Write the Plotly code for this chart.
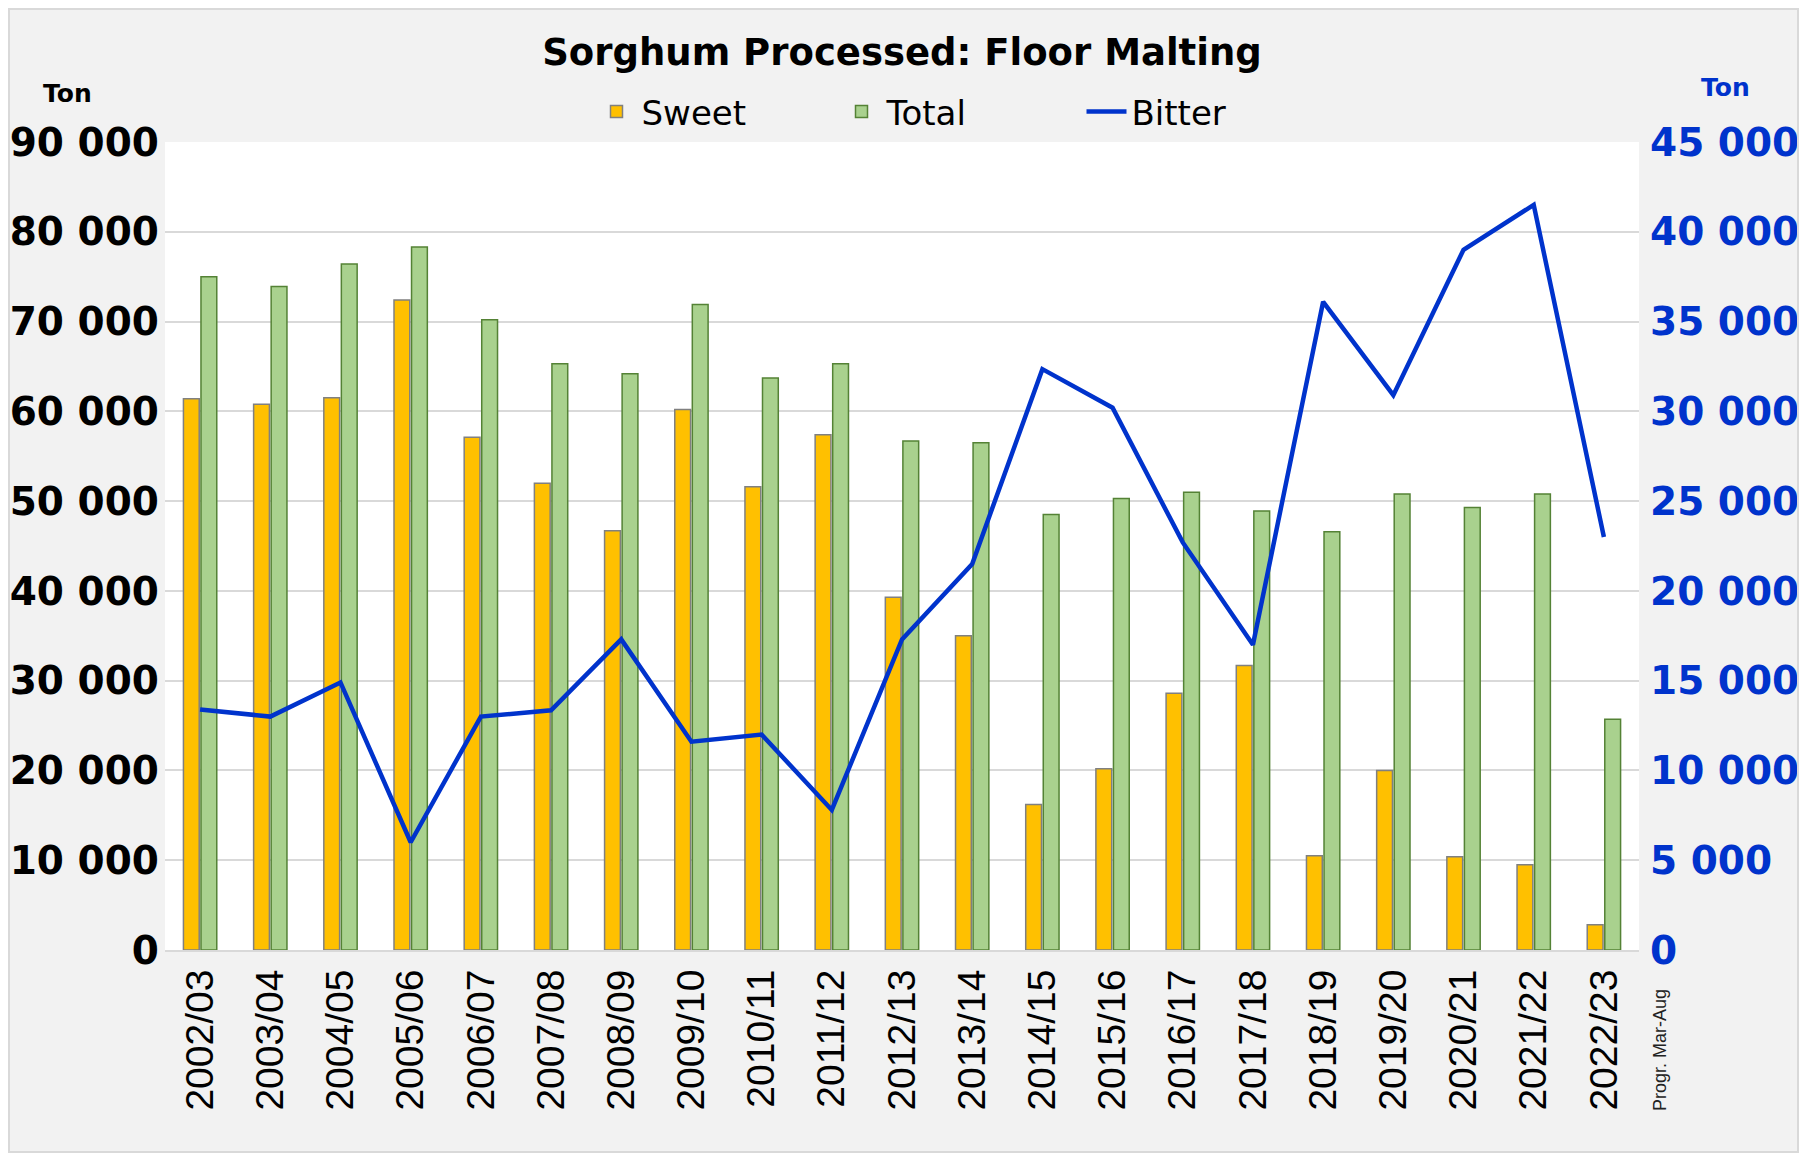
import plotly.graph_objects as go

seasons = ["2002/03", "2003/04", "2004/05", "2005/06", "2006/07", "2007/08", "2008/09",
           "2009/10", "2010/11", "2011/12", "2012/13", "2013/14", "2014/15", "2015/16",
           "2016/17", "2017/18", "2018/19", "2019/20", "2020/21", "2021/22", "2022/23"]
sweet = [61400, 60800, 61500, 72400, 57100, 52000, 46700, 60200, 51600, 57400, 39300,
         35000, 16200, 20200, 28600, 31700, 10500, 20000, 10400, 9500, 2800]
total = [75000, 73900, 76400, 78300, 70200, 65300, 64200, 71900, 63700, 65300, 56700,
         56500, 48500, 50300, 51000, 48900, 46600, 50800, 49300, 50800, 25700]
bitter = [13400, 13000, 14900, 6000, 13000, 13350, 17300, 11600, 12000, 7800, 17300,
          21500, 32350, 30200, 22700, 17000, 36100, 30900, 39000, 41500, 23000]

left_ticks = list(range(0, 90001, 10000))
right_ticks = list(range(0, 45001, 5000))

BLUE = "#0033CC"
NUMFONT = "DejaVu Sans"

fig = go.Figure()
fig.add_trace(go.Bar(name="Sweet", x=seasons, y=sweet,
                     marker=dict(color="#FFC000", line=dict(color="#808080", width=1.5))))
fig.add_trace(go.Bar(name="Total", x=seasons, y=total,
                     marker=dict(color="#A9D18E", line=dict(color="#548235", width=1.5))))
fig.add_trace(go.Scatter(name="Bitter", x=seasons, y=bitter, yaxis="y2", mode="lines",
                         line=dict(color=BLUE, width=4.5)))

# the page body adds an 8px margin, so the figure is sized to fit inside the window
W, H = 1791, 1145
OFF = 8
L, R, T, B = 157, 160, 134, 203


def px(x):
    """x in full-window pixels -> paper fraction"""
    return (x - OFF - L) / (W - L - R)


def py(y):
    """y in full-window pixels -> paper fraction"""
    return (H - B - (y - OFF)) / (H - T - B)


fig.update_layout(
    width=W, height=H,
    margin=dict(l=L, r=R, t=T, b=B, pad=0, autoexpand=False),
    paper_bgcolor="#F2F2F2",
    plot_bgcolor="white",
    separators=". ",
    barmode="group",
    bargap=0.5,
    bargroupgap=0.1,
    title=dict(text="<b>Sorghum Processed: Floor Malting</b>",
               x=(902 - OFF) / W, xanchor="center", y=1 - (52 - OFF) / H, yanchor="middle",
               font=dict(family=NUMFONT, size=37, color="black")),
    legend=dict(orientation="h", x=px(959), xanchor="center", y=py(112), yanchor="middle",
                font=dict(family=NUMFONT, size=34, color="black"),
                bgcolor="rgba(0,0,0,0)", entrywidth=190, itemwidth=40),
    xaxis=dict(type="category", tickangle=-90, showgrid=False, automargin=False,
               tickfont=dict(family="Liberation Sans", size=39, color="black"),
               showline=True, linecolor="#D9D9D9", linewidth=2,
               ticks="", ticklabelstandoff=2),
    yaxis=dict(range=[0, 90000], tickvals=left_ticks, tickformat=",d", automargin=False,
               gridcolor="#D9D9D9", gridwidth=1.5, zeroline=False,
               tickfont=dict(family=NUMFONT, size=39, color="black", weight="bold"),
               ticklabelstandoff=5),
    yaxis2=dict(range=[0, 45000], tickvals=right_ticks, tickformat=",d", automargin=False,
                overlaying="y", side="right", showgrid=False, zeroline=False,
                tickfont=dict(family=NUMFONT, size=39, color=BLUE, weight="bold"),
                ticklabelstandoff=10),
)

fig.add_annotation(text="<b>Ton</b>", x=px(68), y=py(94), xref="paper", yref="paper",
                   showarrow=False, xanchor="center", yanchor="middle",
                   font=dict(family=NUMFONT, size=25, color="black"))
fig.add_annotation(text="<b>Ton</b>", x=px(1725), y=py(88), xref="paper", yref="paper",
                   showarrow=False, xanchor="center", yanchor="middle",
                   font=dict(family=NUMFONT, size=25, color=BLUE))
fig.add_annotation(text="Progr. Mar-Aug", x=px(1660), y=py(1050), xref="paper", yref="paper",
                   showarrow=False, xanchor="center", yanchor="middle", textangle=-90,
                   font=dict(family="Liberation Sans", size=18, color="#222222"))

# frame border around the chart
fig.add_shape(type="rect", xref="paper", yref="paper",
              x0=px(OFF + 1), x1=px(OFF + W - 1), y0=py(OFF + H - 1), y1=py(OFF + 1),
              line=dict(color="#D9D9D9", width=2), layer="above")

fig.write_html("out.html")
